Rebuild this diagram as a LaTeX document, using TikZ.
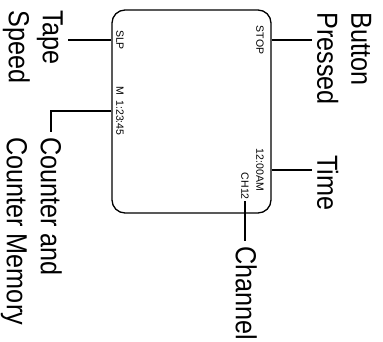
\documentclass[tikz,border=0pt]{standalone}
\usepackage{fontspec}
\setmainfont{Liberation Sans}
\usepackage{tikz}
\newfontfamily\labelfont[FakeStretch=0.87]{Liberation Sans}

\begin{document}
\begin{tikzpicture}[x=1pt, y=-1pt,
        lbl/.style={font=\labelfont\fontsize{29}{34}\selectfont, rotate=-90,
                    align=left, inner sep=5pt},
        disp/.style={font=\fontsize{10.5}{12}\selectfont, rotate=-90, inner sep=1pt},
        wire/.style={line width=1.1pt}]
      % Page frame (pixel coordinates, y pointing down)
      \useasboundingbox (0,0) rectangle (383,341);

      % Display panel
      \node[draw, line width=1.3pt, rounded corners=13pt, inner sep=0pt,
            minimum width=159pt, minimum height=203pt] (screen) at (191.5,111.5) {};

      % Readouts on the panel
      \node[disp] (stop)  at (260,40)  {STOP};
      \node[disp] (clock) at (260,170) {12:00AM};
      \node[disp, anchor=east] (ch12) at (245,201) {CH12};
      \node[disp] (slp)   at (120,40)  {SLP};
      \node[disp] (count) at (120,111) {M\enspace 1:23:45};

      % Callout labels
      \node[lbl, anchor=south west] (bpress)  at (312,7)   {Button\\Pressed};
      \node[lbl, anchor=south west] (time)    at (312,150) {Time};
      \node[lbl, anchor=north west] (channel) at (262,241) {Channel};
      \node[lbl, anchor=north west] (tape)    at (68,5)    {Tape\\Speed};
      \node[lbl, anchor=north west] (counter) at (67,132)  {Counter and\\Counter Memory};

      % Leader lines, right side
      \foreach \src/\dst in {stop/bpress, clock/time} {
        \draw[wire] (\src -| screen.east) -- (\src -| \dst.south);
      }
      \draw[wire] (ch12.east) -- (ch12.east |- channel.west);

      % Leader lines, left side
      \draw[wire] (slp -| screen.west) -- (slp -| tape.north);
      \draw[wire] (count -| screen.west) -| ([xshift=-16pt]counter.north west);
    \end{tikzpicture}
\end{document}
